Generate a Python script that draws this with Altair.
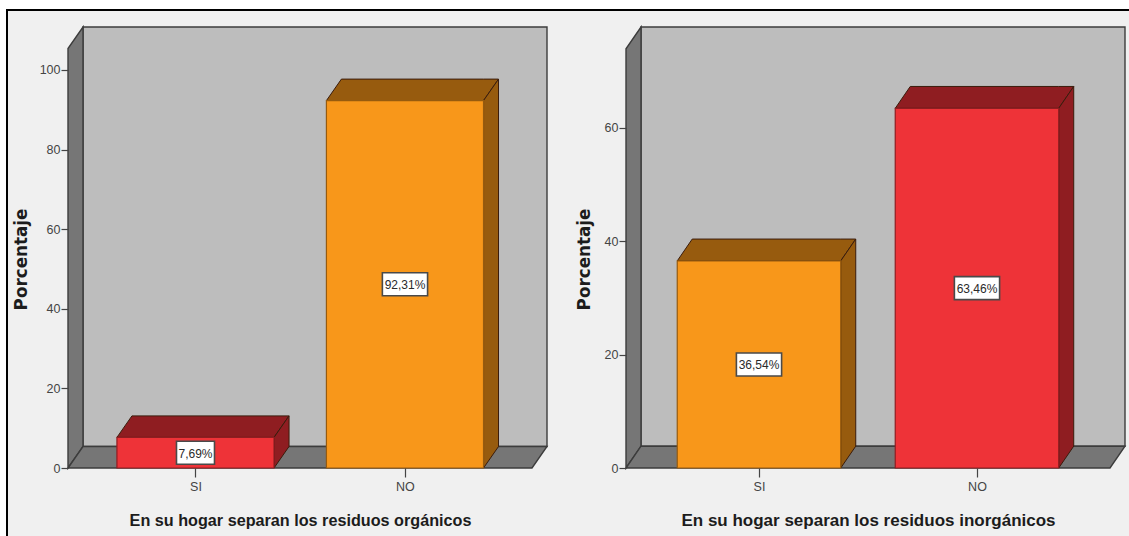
import altair as alt
import pandas as pd

# Percentages for each question
categories = ["SI", "NO"]
organic_values = [7.69, 92.31]
inorganic_values = [36.54, 63.46]
organic_labels = ["7,69%", "92,31%"]
inorganic_labels = ["36,54%", "63,46%"]
organic_ticks = [0, 20, 40, 60, 80, 100]
inorganic_ticks = [0, 20, 40, 60]

RED, RED_DARK = "#ee3338", "#8f1d21"
ORANGE, ORANGE_DARK = "#f8971a", "#975b0e"
WALL, SIDE, EDGE = "#bdbdbd", "#767676", "#3c3c3c"
PANEL_BG = "#f0f0f0"
FONT = "Liberation Sans"


def polygon(points, fill, stroke, width=1.4):
    """Filled face given as (x, lower, upper) rows, drawn on the panel's scales."""
    frame = pd.DataFrame(points, columns=["x", "lo", "hi"])
    return alt.Chart(frame).mark_area(
        fill=fill, stroke=stroke, strokeWidth=width, orient="vertical", clip=False
    ).encode(x=alt.X("x:Q"), y=alt.Y("lo:Q"), y2="hi:Q")


def panel(values, labels, colors, ticks, x_dom, y_dom, depth_x, depth_y,
          size, title, title_size, title_pos, extra=()):
    x0, x1 = x_dom
    y_top = y_dom[1]
    half = 0.375
    x_scale = alt.Scale(domain=list(x_dom), nice=False, zero=False)
    y_scale = alt.Scale(domain=list(y_dom), nice=False, zero=False)

    layers = list(extra)

    # Room shell: back wall, left wall and floor
    layers.append(polygon(
        [(x0 + depth_x, depth_y, y_top), (x1, depth_y, y_top)], WALL, EDGE))
    layers.append(polygon(
        [(x0, 0, y_top - depth_y), (x0 + depth_x, depth_y, y_top)], SIDE, EDGE))
    layers.append(polygon(
        [(x0, 0, 0), (x0 + depth_x, 0, depth_y),
         (x1 - depth_x, 0, depth_y), (x1, depth_y, depth_y)], SIDE, EDGE))

    # Prisms: top and side faces first, then the front
    for i, (v, (front, dark)) in enumerate(zip(values, colors)):
        left, right = i - half, i + half
        layers.append(polygon(
            [(left, v, v), (left + depth_x, v, v + depth_y),
             (right, v, v + depth_y), (right + depth_x, v + depth_y, v + depth_y)],
            dark, "#3a1c0c", 1))
        layers.append(polygon(
            [(right, 0, v), (right + depth_x, depth_y, v + depth_y)],
            dark, "#3a1c0c", 1))
        front_df = pd.DataFrame({"a": [left], "b": [right], "v": [v]})
        layers.append(alt.Chart(front_df).mark_rect(
            fill=front, stroke=dark, strokeWidth=1.2
        ).encode(x=alt.X("a:Q"), x2="b:Q", y=alt.Y("v:Q"), y2=alt.datum(0)))

    # Value tags centred on each front face
    for i, (v, text) in enumerate(zip(values, labels)):
        tag = pd.DataFrame({"x": [i], "mid": [v / 2], "text": [text]})
        base = alt.Chart(tag).encode(x=alt.X("x:Q"), y=alt.Y("mid:Q"))
        layers.append(base.mark_rect(
            width=7.2 * len(text) + 2, height=23, fill="white",
            stroke="#4a4a4a", strokeWidth=1.6))
        layers.append(base.mark_text(
            font=FONT, fontSize=12, color="#2a2a2a", baseline="middle", dy=1
        ).encode(text="text:N"))

    names = ",".join(f"'{c}'" for c in categories)
    x_axis = alt.Axis(
        values=list(range(len(categories))), labelExpr=f"[{names}][datum.value]",
        grid=False, domain=False, tickSize=9, tickColor="#444", tickWidth=1.2,
        labelFont=FONT, labelFontSize=12.5, labelColor="#444", labelPadding=3,
        labelFlush=False, title=title, titleFont=FONT, titleFontSize=title_size,
        titleFontWeight="bold", titleColor="#1c1c1c",
        titleX=title_pos[0], titleY=44, titleAlign="center", zindex=1,
    )
    y_axis = alt.Axis(
        values=ticks, grid=False, domain=False, tickSize=7, tickColor="#444",
        tickWidth=1.2, labelFont=FONT, labelFontSize=12.5, labelColor="#444",
        labelPadding=1, title="Porcentaje", titleFont="DejaVu Sans",
        titleFontSize=16.8, titleFontWeight="bold", titleColor="#1c1c1c",
        titleX=title_pos[1], titleY=232, titleAlign="center", zindex=1,
    )
    # Invisible carrier layer that owns both scales and axes
    carrier = alt.Chart(pd.DataFrame({"x": [0], "y": [0]})).mark_point(opacity=0).encode(
        x=alt.X("x:Q", scale=x_scale, axis=x_axis),
        y=alt.Y("y:Q", scale=y_scale, axis=y_axis),
    )
    return alt.layer(*layers, carrier).properties(width=size[0], height=size[1])


def backing(fill, left, top):
    return alt.Chart(pd.DataFrame({"k": [0]})).mark_rect(fill=fill, clip=False).encode(
        x=alt.value(left), x2=alt.value(1061), y=alt.value(top), y2=alt.value(509)
    )


sheet = [backing("white", -68, -27), backing("#000000", -62, -18), backing(PANEL_BG, -60, -16)]

left_chart = panel(
    organic_values, organic_labels,
    [(RED, RED_DARK), (ORANGE, ORANGE_DARK)], organic_ticks,
    (-0.6086, 1.678), (0, 110.8), 15 / 209.5, 5.4, (479, 441),
    "En su hogar separan los residuos orgánicos", 16.2, (232, -38), sheet,
)
right_chart = panel(
    inorganic_values, inorganic_labels,
    [(ORANGE, ORANGE_DARK), (RED, RED_DARK)], inorganic_ticks,
    (-0.6101, 1.679), (0, 77.8), 15 / 218, 3.85, (499, 441),
    "En su hogar separan los residuos inorgánicos", 17, (242, -33),
)

chart = alt.hconcat(left_chart, right_chart, spacing=79, bounds="flush").properties(
    padding=0, background="white"
).configure_view(stroke=None)

chart.save("out.html", embed_options={"renderer": "svg", "actions": False})
